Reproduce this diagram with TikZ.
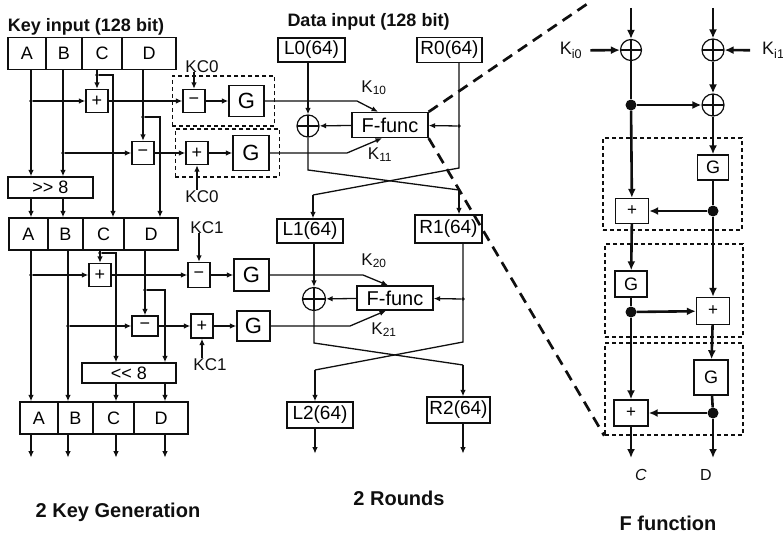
\documentclass[tikz,border=0pt]{standalone}
\usepackage{fontspec}
\setmainfont{Liberation Sans}
\usepackage{tikz}
\usetikzlibrary{calc,arrows.meta,positioning,fit}
\definecolor{ink}{RGB}{15,15,15}
\tikzset{
  lbl/.style   ={inner sep=0pt, text=ink, font=\fontsize{17}{19}\selectfont},
  ttl/.style   ={inner sep=0pt, text=ink, font=\fontsize{18}{20}\selectfont\bfseries},
  capt/.style  ={inner sep=0pt, text=ink, font=\fontsize{20}{22}\selectfont\bfseries},
  regcell/.style={rectangle, draw=ink, line width=1.3pt, inner sep=0pt,
                  minimum height=32pt, font=\fontsize{18}{20}\selectfont},
  shbox/.style ={rectangle, draw=ink, line width=1.3pt, inner sep=0pt,
                 minimum height=21pt, font=\fontsize{18}{20}\selectfont},
  opbox/.style ={rectangle, draw=ink, line width=1.3pt, inner sep=0pt,
                 minimum width=22pt, minimum height=23pt, font=\fontsize{18}{20}\selectfont},
  gbox/.style  ={rectangle, draw=ink, line width=1.3pt, inner sep=0pt,
                 minimum width=35pt, minimum height=32pt, font=\fontsize{22}{24}\selectfont},
  halfbox/.style={rectangle, draw=ink, line width=1.3pt, inner sep=0pt,
                 minimum width=66pt, minimum height=25pt, font=\fontsize{19}{21}\selectfont},
  ffbox/.style ={rectangle, draw=ink, line width=1.3pt, inner sep=0pt,
                 minimum width=76pt, minimum height=25pt, font=\fontsize{20}{22}\selectfont},
  xorc/.style  ={circle, draw=ink, line width=1.2pt, inner sep=0pt, minimum size=22pt,
                 path picture={\draw[ink, line width=1.2pt]
                   (path picture bounding box.north) -- (path picture bounding box.south)
                   (path picture bounding box.west) -- (path picture bounding box.east);}},
  jdot/.style  ={circle, fill=ink, inner sep=0pt, minimum size=3.8pt},
  wire/.style  ={ink, line width=1.3pt},
  wirea/.style ={wire, -{Latex[length=6.5pt,width=5.5pt]}},
  grp/.style   ={draw=ink, line width=1.5pt, dash pattern=on 4pt off 3pt, inner sep=0pt},
  fopbox/.style={rectangle, draw=ink, line width=1.4pt, inner sep=0pt,
                 minimum width=33pt, minimum height=26pt, font=\fontsize{17}{19}\selectfont},
  fgbox/.style ={fopbox, font=\fontsize{18}{20}\selectfont},
  fwire/.style ={ink, line width=2.6pt},
  fwirea/.style={fwire, -{Latex[length=9pt,width=8pt]}},
  fdot/.style  ={circle, fill=ink, inner sep=0pt, minimum size=11pt},
  zoomln/.style={ink, line width=2.7pt, dash pattern=on 11pt off 7pt},
}

\begin{document}
\begin{tikzpicture}[x=1pt, y=-1pt]
  \useasboundingbox (0,0) rectangle (783,535);

  % --- key generation: the three registers ---------------------------------
  \node[ttl, anchor=base] (keyin) at (86,32) {Key input (128 bit)};
  \foreach \n/\x/\w in {A/27/38, B/64/36, C/102/40, D/149/54}
    \node[regcell, minimum width=\w pt] (ka\n) at (\x,53.5) {\n};
  \foreach \n/\x/\w in {A/28.5/39, B/65.5/35, C/103.5/41, D/151/54}
    \node[regcell, minimum width=\w pt] (kb\n) at (\x,234) {\n};
  \foreach \n/\x/\w in {A/39/38, B/75.5/35, C/113.5/41, D/161/54}
    \node[regcell, minimum width=\w pt] (kc\n) at (\x,418) {\n};
  \node[shbox, minimum width=85pt] (shr) at (50.5,187.5) {>\kern0pt> 8};
  \node[shbox, minimum width=94pt, minimum height=20pt] (shl) at (129,373) {<\kern0pt< 8};

  % --- key generation: first round -------------------------------------------
  \node[jdot] (daa) at (31,101) {};
  \node[jdot] (dba) at (63,153) {};
  \node[jdot] (dca) at (97,75) {};
  \node[jdot] (dda) at (143,117) {};
  \coordinate (cbra) at (113,75);
  \coordinate (dbra) at (160,117);
  \node[opbox] (adda) at (97,101) {+};
  \node[opbox] (suba) at (143,153) {−};

  \node[opbox] (kcsa) at (194,101) {−};
  \node[gbox, minimum height=31pt] (ga1) at (246.5,101) {G};
  \node[grp, fit=(kcsa)(ga1), inner xsep=10pt, inner ysep=9pt] (grpa) {};
  \node[lbl, anchor=base] (kc0a) at (202,72) {KC0};
  \node[opbox] (kcaa) at (197,153) {+};
  \node[gbox, minimum width=36pt, minimum height=35pt] (ga2) at (251,153) {G};
  \node[grp, fit=(kcaa)(ga2), inner xsep=10pt, inner ysep=6pt] (grpb) {};
  \node[lbl, anchor=base] (kc0b) at (202,202) {KC0};

  \draw[wirea] (daa |- kaA.south) -- (daa |- shr.north);
  \draw[wirea] (daa) -- (adda);
  \draw[wirea] (dba |- kaB.south) -- (dba |- shr.north);
  \draw[wirea] (dba) -- (suba);
  \draw[wirea] (dca |- kaC.south) -- (adda);
  \draw[wirea] (dca) -- (cbra) -- (cbra |- kbC.north);
  \draw[wirea] (dda |- kaD.south) -- (suba);
  \draw[wirea] (dda) -- (dbra) -- (dbra |- kbD.north);
  \draw[wirea] (daa |- shr.south) -- (daa |- kbA.north);
  \draw[wirea] (dba |- shr.south) -- (dba |- kbB.north);
  \draw[wirea] (adda) -- (kcsa);
  \draw[wirea] (kcsa) -- (ga1);
  \draw[wirea] (kc0a.south -| kcsa) -- (kcsa);
  \draw[wirea] (suba) -- (kcaa);
  \draw[wirea] (kcaa) -- (ga2);
  \draw[wirea] (kc0b.north -| kcaa) -- (kcaa);

  % --- key generation: second round ------------------------------------------
  \node[jdot] (dab) at (31,275) {};
  \node[jdot] (dbb) at (68,326) {};
  \node[jdot] (dcb) at (100,253) {};
  \node[jdot] (ddb) at (145,290) {};
  \coordinate (cbrb) at (116,253);
  \coordinate (dbrb) at (165,290);
  \node[opbox] (addb) at (100,275) {+};
  \node[opbox, minimum width=26pt, minimum height=20pt] (subb) at (145,326) {−};

  \node[opbox, minimum height=25pt] (kcsb) at (199,275) {−};
  \node[gbox] (gb1) at (251.5,275) {G};
  \node[lbl, anchor=base] (kc1a) at (207,233) {KC1};
  \node[opbox, minimum height=24pt] (kcab) at (202,326) {+};
  \node[gbox, minimum width=33pt, minimum height=30pt] (gb2) at (253.5,326) {G};
  \node[lbl, anchor=base] (kc1b) at (210,370) {KC1};

  \draw[wirea] (dab |- kbA.south) -- (dab |- kcA.north);
  \draw[wirea] (dab) -- (addb);
  \draw[wirea] (dbb |- kbB.south) -- (dbb |- kcB.north);
  \draw[wirea] (dbb) -- (subb);
  \draw[wirea] (dcb |- kbC.south) -- (addb);
  \draw[wirea] (dcb) -- (cbrb) -- (cbrb |- shl.north);
  \draw[wirea] (ddb |- kbD.south) -- (subb);
  \draw[wirea] (ddb) -- (dbrb) -- (dbrb |- shl.north);
  \draw[wirea] (cbrb |- shl.south) -- (cbrb |- kcC.north);
  \draw[wirea] (dbrb |- shl.south) -- (dbrb |- kcD.north);
  \draw[wirea] (addb) -- (kcsb);
  \draw[wirea] (kcsb) -- (gb1);
  \draw[wirea] (kc1a.south -| kcsb) -- (kcsb);
  \draw[wirea] (subb) -- (kcab);
  \draw[wirea] (kcab) -- (gb2);
  \draw[wirea] (kc1b.north -| kcab) -- (kcab);

  % outputs of the last register
  \foreach \n/\c in {A/dab, B/dbb, C/cbrb, D/dbrb}
    \draw[wirea] (\c |- kc\n.south) -- ++(0,23);

  % --- two rounds: the halves --------------------------------------------------
  \node[ttl, anchor=base] (datain) at (368.5,27) {Data input (128 bit)};
  \node[halfbox, minimum width=67pt, minimum height=24pt] (L0) at (311.5,50) {L0(64)};
  \node[halfbox, minimum width=65pt] (R0) at (449.5,50) {R0(64)};
  \node[halfbox, minimum height=24pt] (L1) at (310,231) {L1(64)};
  \node[halfbox, minimum width=67pt, minimum height=28pt] (R1) at (448.5,229) {R1(64)};
  \node[halfbox, minimum height=26pt] (L2) at (320,415) {L2(64)};
  \node[halfbox, minimum width=63pt, minimum height=26pt] (R2) at (458.5,410) {R2(64)};

  % --- two rounds: first round -------------------------------------------------
  \node[xorc] (xa) at (308,126) {};
  \node[ffbox] (fa) at (390,125) {F-func};
  \node[jdot] (dra) at (459,126) {};
  \coordinate (la1) at (308,170);
  \coordinate (la2) at (459,190);
  \coordinate (ra1) at (459,168);
  \coordinate (ra2) at (313,195);
  \coordinate (k10a) at (357,101);
  \coordinate (k11a) at (347,153);
  \node[lbl, anchor=base] (k10) at (374,92) {K\textsubscript{10}};
  \node[lbl, anchor=base] (k11) at (380,159) {K\textsubscript{11}};

  \draw[wirea] (L0.south -| xa) -- (xa);
  \draw[wirea] (dra) -- (fa);
  \draw[wirea] (fa) -- (xa);
  \draw[wire]  (dra |- R0.south) -- (ra1) -- (ra2);
  \draw[wirea] (ra2) -- (ra2 |- L1.north);
  \draw[wire]  (xa) -- (la1) -- (la2);
  \draw[wirea] (la2) -- (la2 |- R1.north);
  \draw[wirea] (ga1) -- (k10a) -- ($(fa.north)+(-12,0)$);
  \draw[wirea] (ga2) -- (k11a) -- ($(fa.south)+(-8,0)$);

  % --- two rounds: second round ------------------------------------------------
  \node[xorc, minimum size=23pt] (xb) at (314,299) {};
  \node[ffbox, minimum height=24pt] (fb) at (395,298) {F-func};
  \node[jdot] (drb) at (463,299) {};
  \coordinate (lb1) at (314,343);
  \coordinate (lb2) at (463,365);
  \coordinate (rb1) at (463,342);
  \coordinate (rb2) at (315,370);
  \coordinate (k20a) at (363,275);
  \coordinate (k21a) at (350,326);
  \node[lbl, anchor=base] (k20) at (374,265) {K\textsubscript{20}};
  \node[lbl, anchor=base] (k21) at (384,334) {K\textsubscript{21}};

  \draw[wirea] (L1.south -| xb) -- (xb);
  \draw[wirea] (drb) -- (fb);
  \draw[wirea] (fb) -- (xb);
  \draw[wire]  (drb |- R1.south) -- (rb1) -- (rb2);
  \draw[wirea] (rb2) -- (rb2 |- L2.north);
  \draw[wire]  (xb) -- (lb1) -- (lb2);
  \draw[wirea] (lb2) -- (lb2 |- R2.north);
  \draw[wirea] (gb1) -- (k20a) -- ($(fb.north)+(-7,0)$);
  \draw[wirea] (gb2) -- (k21a) -- ($(fb.south)+(-9,0)$);
  \draw[wirea] (rb2 |- L2.south) -- ++(0,25);
  \draw[wirea] (lb2 |- R2.south) -- ++(0,30);

  % --- F function ------------------------------------------------------------
  \coordinate (fin0) at (631,8);
  \coordinate (fin1) at (713,8);
  \node[xorc, minimum size=21pt] (fxa) at (631,50) {};
  \node[xorc] (fxb) at (713,50) {};
  \node[lbl, anchor=base, font=\fontsize{18}{20}\selectfont] (ki0) at (571,55) {K\textsubscript{i0}};
  \node[lbl, anchor=base west, font=\fontsize{18}{20}\selectfont] (ki1) at (762,55) {K\textsubscript{i1}};
  \node[fdot] (fda) at (631,105) {};
  \node[xorc] (fxc) at (713,105) {};

  \node[fgbox, minimum width=31pt, minimum height=25pt] (fg1) at (713,167.5) {G};
  \node[fopbox, minimum height=25pt] (fp1) at (632,211) {+};
  \node[fdot] (fdb) at (713,211) {};
  \node[grp, minimum width=139pt, minimum height=92pt] (fgrp1) at (672.5,184) {};

  \node[fgbox, minimum width=32pt] (fg2) at (631,284) {G};
  \node[fdot] (fdc) at (631,312) {};
  \node[fopbox, minimum height=27pt] (fp2) at (713,311) {+};
  \node[grp, minimum width=138pt, minimum height=93pt] (fgrp2) at (674,290.5) {};

  \node[fgbox, minimum width=34pt, minimum height=35pt] (fg3) at (711,377.5) {G};
  \node[fopbox, minimum width=34pt] (fp3) at (631,413) {+};
  \node[fdot] (fdd) at (713,413) {};
  \node[grp, minimum width=138pt, minimum height=92pt] (fgrp3) at (674,389) {};

  \draw[fwirea] (fin0) -- (fxa);
  \draw[fwirea] (fin1) -- (fxb);
  \draw[fwirea, shorten <=8pt] (ki0) -- (fxa);
  \draw[fwirea, shorten <=12pt] (ki1) -- (fxb);
  \draw[fwire]  (fxa) -- (fda);
  \draw[fwirea] (fda) -- (fxc);
  \draw[fwirea] (fxb) -- (fxc);
  \draw[fwirea] (fxc) -- (fg1);
  \draw[fwire]  (fg1) -- (fdb);
  \draw[fwirea] (fdb) -- (fp1);
  \draw[fwirea] (fda) -- (fp1);
  \draw[fwirea] (fp1) -- (fg2);
  \draw[fwire]  (fg2) -- (fdc);
  \draw[fwirea] (fdc) -- (fp2);
  \draw[fwirea] (fdb) -- (fp2);
  \draw[fwirea] (fp2) -- (fg3);
  \draw[fwire]  (fg3) -- (fdd);
  \draw[fwirea] (fdd) -- (fp3);
  \draw[fwirea] (fdc) -- (fp3);
  \draw[fwirea] (fp3) -- ++(0,45);
  \draw[fwirea] (fdd) -- ++(0,45);
  \node[lbl, anchor=base, font=\fontsize{16}{18}\selectfont\itshape] (outc) at (641,480) {C};
  \node[lbl, anchor=base, font=\fontsize{16}{18}\selectfont] (outd) at (706,480) {D};

  % --- zoom lines from the F-func box ---------------------------------------
  \coordinate (ztop) at (590,2);
  \draw[zoomln] (fa.north east) -- (ztop);
  \draw[zoomln] (fa.south east) -- (fgrp3.south west);

  % --- captions ----------------------------------------------------------------
  \node[capt, anchor=base] (capk) at (118,517) {2 Key Generation};
  \node[capt, anchor=base] (capr) at (399,505) {2 Rounds};
  \node[capt, anchor=base] (capf) at (668,530) {F function};
\end{tikzpicture}
\end{document}
